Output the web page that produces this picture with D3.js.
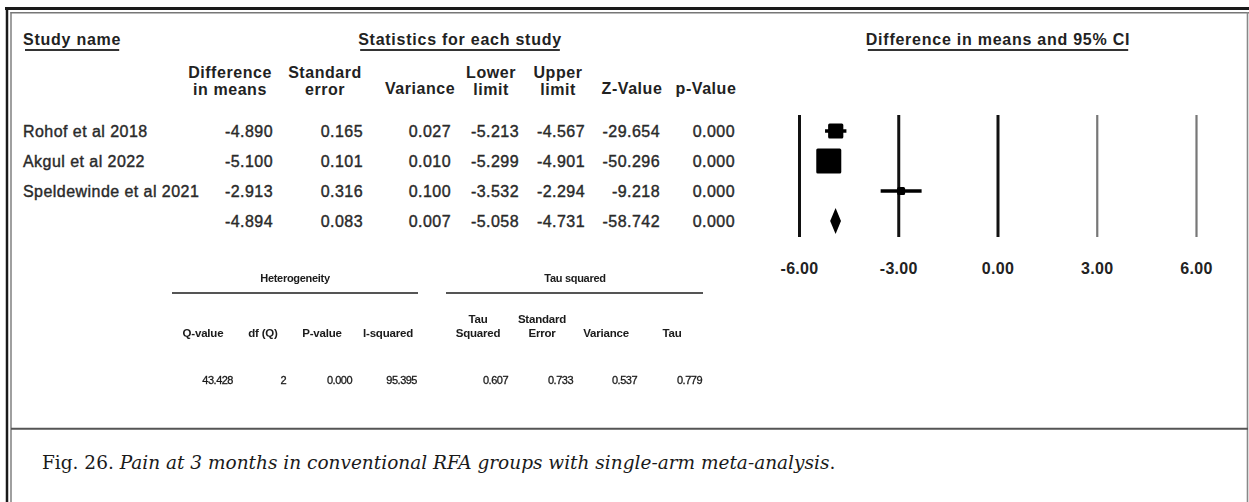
<!DOCTYPE html>
<html>
<head>
<meta charset="utf-8">
<script src="https://cdn.jsdelivr.net/npm/d3@7/dist/d3.min.js"></script>
<style>
  html, body { margin: 0; padding: 0; background: #fff; }
  svg { display: block; }
</style>
</head>
<body>
<svg id="chart" width="1249" height="502"></svg>
<script>
// ---- Study-level data ----
const studyNames  = ["Rohof et al 2018", "Akgul et al 2022", "Speldewinde et al 2021", ""];
const diffMeans   = [-4.890, -5.100, -2.913, -4.894];
const stdErrors   = [0.165, 0.101, 0.316, 0.083];
const variances   = [0.027, 0.010, 0.100, 0.007];
const lowerLimits = [-5.213, -5.299, -3.532, -5.058];
const upperLimits = [-4.567, -4.901, -2.294, -4.731];
const zValues     = [-29.654, -50.296, -9.218, -58.742];
const pValues     = [0.000, 0.000, 0.000, 0.000];

// ---- Column headers ----
const colHeaders = [["Difference", "in means"], ["Standard", "error"], ["Variance"],
                    ["Lower", "limit"], ["Upper", "limit"], ["Z-Value"], ["p-Value"]];

// ---- Forest axis ----
const axisTicks = [-6, -3, 0, 3, 6];
const axisDomain = [-6, 6];

// ---- Heterogeneity / tau squared ----
const hetLabels = [["Q-value"], ["df (Q)"], ["P-value"], ["I-squared"]];
const hetValues = [43.428, 2, 0.000, 95.395];
const tauLabels = [["Tau", "Squared"], ["Standard", "Error"], ["Variance"], ["Tau"]];
const tauValues = [0.607, 0.733, 0.537, 0.779];

const captionLead = "Fig. 26. ";
const captionBody = "Pain at 3 months in conventional RFA groups with single-arm meta-analysis";

// ---------------------------------------------------------------
const locale = d3.formatLocale({decimal: ".", thousands: ",", grouping: [3], currency: ["", ""], minus: "-"});
const f3 = locale.format(".3f");
const f2 = locale.format(".2f");

const svg = d3.select("#chart");
const SANS = "'Liberation Sans', Arial, sans-serif";
const SERIF = "'DejaVu Serif', 'Liberation Serif', serif";

const defs = svg.append("defs");
defs.append("filter").attr("id", "soft").append("feGaussianBlur").attr("stdDeviation", 0.45);

// frame
svg.append("line").attr("x1", 5).attr("x2", 1249).attr("y1", 8.5).attr("y2", 8.5)
  .attr("stroke", "#1a1a1a").attr("stroke-width", 3);
svg.append("line").attr("x1", 10.5).attr("x2", 1249).attr("y1", 12.8).attr("y2", 12.8)
  .attr("stroke", "#777").attr("stroke-width", 1.4);
svg.append("line").attr("x1", 7).attr("x2", 7).attr("y1", 7).attr("y2", 502)
  .attr("stroke", "#1a1a1a").attr("stroke-width", 2.5);
svg.append("line").attr("x1", 11).attr("x2", 11).attr("y1", 12).attr("y2", 502)
  .attr("stroke", "#777").attr("stroke-width", 1.4);
svg.append("line").attr("x1", 1247.5).attr("x2", 1247.5).attr("y1", 12).attr("y2", 502)
  .attr("stroke", "#888").attr("stroke-width", 1.6);
svg.append("line").attr("x1", 11).attr("x2", 1248).attr("y1", 428.8).attr("y2", 428.8)
  .attr("stroke", "#555").attr("stroke-width", 2);

// section titles with underline
function titled(text, cx, anchor) {
  const t = svg.append("text").attr("x", cx).attr("y", 45)
    .attr("text-anchor", anchor)
    .attr("font-family", SANS).attr("font-weight", "bold").attr("font-size", 16)
    .attr("letter-spacing", 0.75).attr("fill", "#222").text(text);
  const bb = t.node().getBBox();
  svg.append("line").attr("x1", bb.x + 2).attr("x2", bb.x + bb.width - 2)
    .attr("y1", 50).attr("y2", 50).attr("stroke", "#333").attr("stroke-width", 2.2);
}
titled("Study name", 23, "start");
titled("Statistics for each study", 460, "middle");
titled("Difference in means and 95% CI", 998, "middle");

// table columns
const headerCenters = [230, 325, 420, 491, 558, 632, 706];
const valueRights   = [273, 363, 451, 519, 585, 660, 735];
const columns = [diffMeans, stdErrors, variances, lowerLimits, upperLimits, zValues, pValues];

colHeaders.forEach((lines, i) => {
  const startY = lines.length === 2 ? 78 : 94;
  lines.forEach((ln, j) => {
    svg.append("text").attr("x", headerCenters[i]).attr("y", startY + j * 16.5)
      .attr("text-anchor", "middle").attr("font-family", SANS).attr("font-weight", "bold")
      .attr("font-size", 16).attr("letter-spacing", 0.55).attr("fill", "#222").text(ln);
  });
});

const rowY = d3.scaleLinear().domain([0, studyNames.length - 1]).range([131, 221]);

const rows = svg.append("g").attr("font-family", SANS).attr("font-size", 16)
  .attr("fill", "#2a2a2a").attr("stroke", "#2a2a2a").attr("stroke-width", 0.4)
  .attr("letter-spacing", 0.45);

rows.selectAll("text.name").data(studyNames).join("text")
  .attr("class", "name").attr("x", 23).attr("y", (d, i) => rowY(i)).attr("dy", "0.36em")
  .text(d => d);

columns.forEach((col, c) => {
  rows.selectAll("text.c" + c).data(col).join("text")
    .attr("class", "c" + c).attr("x", valueRights[c]).attr("y", (d, i) => rowY(i))
    .attr("dy", "0.36em").attr("text-anchor", "end").text(d => f3(d));
});

// forest plot
const x = d3.scaleLinear().domain(axisDomain).range([799, 1196]);
const gridTop = 115, gridBottom = 237;

const axisG = svg.append("g").attr("transform", `translate(0,${gridBottom})`)
  .call(d3.axisBottom(x).tickValues(axisTicks).tickFormat(f2)
    .tickSize(-(gridBottom - gridTop)).tickPadding(26));
axisG.select(".domain").remove();
axisG.selectAll(".tick line")
  .attr("stroke", d => d <= 0 ? "#111" : "#777")
  .attr("stroke-width", d => d <= 0 ? 3 : 2.2);
axisG.selectAll(".tick text")
  .attr("font-family", SANS).attr("font-weight", "bold").attr("font-size", 16)
  .attr("letter-spacing", 0.3).attr("fill", "#222");

const forest = svg.append("g");
const nStudies = 3;
for (let i = 0; i < nStudies; i++) {
  const cy = rowY(i);
  forest.append("line").attr("x1", x(lowerLimits[i])).attr("x2", x(upperLimits[i]))
    .attr("y1", cy).attr("y2", cy).attr("stroke", "#000").attr("stroke-width", 3.5);
  const side = 2.5 * Math.sqrt(1 / variances[i]);
  forest.append("rect").attr("x", x(diffMeans[i]) - side / 2).attr("y", cy - side / 2)
    .attr("width", side).attr("height", side).attr("rx", 1.5).attr("fill", "#000");
}
// pooled estimate diamond
{
  const i = 3, cy = rowY(i), h = 13;
  const pts = [[x(lowerLimits[i]), cy], [x(diffMeans[i]), cy - h],
               [x(upperLimits[i]), cy], [x(diffMeans[i]), cy + h]];
  forest.append("polygon").attr("points", pts.map(p => p.join(",")).join(" "))
    .attr("fill", "#000");
}

// heterogeneity & tau squared block
const small = svg.append("g").attr("font-family", SANS).attr("fill", "#1a1a1a")
  .attr("filter", "url(#soft)");
function block(title, cx, lineX1, lineX2) {
  small.append("text").attr("x", cx).attr("y", 282).attr("text-anchor", "middle")
    .attr("font-weight", "bold").attr("font-size", 11).attr("letter-spacing", -0.3).text(title);
  small.append("line").attr("x1", lineX1).attr("x2", lineX2).attr("y1", 293).attr("y2", 293)
    .attr("stroke", "#555").attr("stroke-width", 2);
}
block("Heterogeneity", 295, 172, 418);
block("Tau squared", 575, 446, 703);

const hetLabelX = [203, 263, 322, 388];
const tauLabelX = [478, 542, 606, 672];
const hetValueR = [233, 286, 352, 417];
const tauValueR = [508, 573, 637, 702];

function subLabels(labels, xs) {
  labels.forEach((lines, i) => {
    const y0 = lines.length === 2 ? 323 : 337;
    lines.forEach((ln, j) => {
      small.append("text").attr("x", xs[i]).attr("y", y0 + j * 14).attr("text-anchor", "middle")
        .attr("font-weight", "bold").attr("font-size", 11.5).attr("letter-spacing", -0.2).text(ln);
    });
  });
}
subLabels(hetLabels, hetLabelX);
subLabels(tauLabels, tauLabelX);

small.selectAll("text.hv").data(hetValues).join("text").attr("class", "hv")
  .attr("x", (d, i) => hetValueR[i]).attr("y", 384).attr("text-anchor", "end")
  .attr("font-size", 11).attr("letter-spacing", -0.5).attr("stroke", "#1a1a1a").attr("stroke-width", 0.3)
  .text((d, i) => i === 1 ? d3.format("d")(d) : f3(d));
small.selectAll("text.tv").data(tauValues).join("text").attr("class", "tv")
  .attr("x", (d, i) => tauValueR[i]).attr("y", 384).attr("text-anchor", "end")
  .attr("font-size", 11).attr("letter-spacing", -0.5).attr("stroke", "#1a1a1a").attr("stroke-width", 0.3)
  .text(d => f3(d));

// caption
const cap = svg.append("text").attr("x", 42).attr("y", 469)
  .attr("font-family", SERIF).attr("font-size", 18.5).attr("fill", "#1a1a1a");
cap.append("tspan").text(captionLead);
cap.append("tspan").attr("font-style", "italic").text(captionBody);
cap.append("tspan").text(".");
</script>
</body>
</html>
